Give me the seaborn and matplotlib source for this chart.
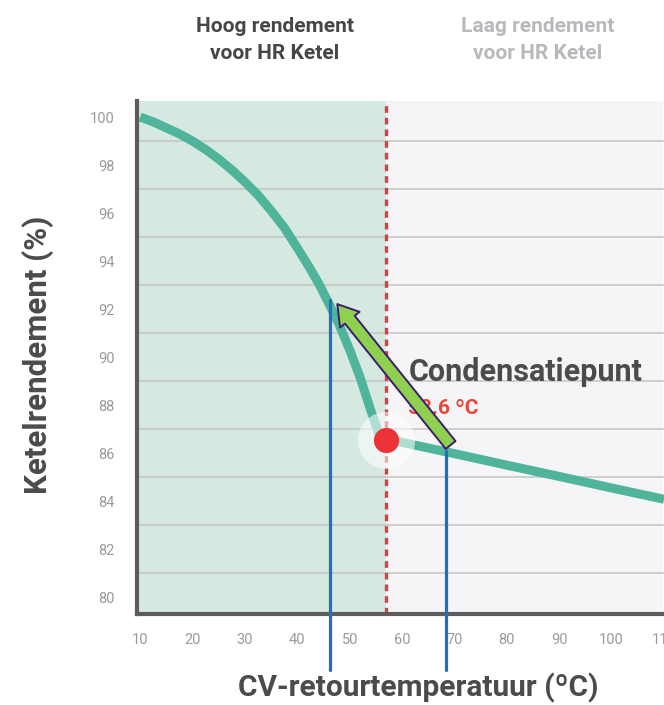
import seaborn as sns
import matplotlib.pyplot as plt
import pandas as pd
from matplotlib.patches import FancyArrowPatch

# efficiency curve
temp = [10, 12.5, 15, 17.5, 20, 22.5, 25, 27.5, 30, 32.5, 35, 37.5, 40, 42, 44, 46, 48,
        50, 52, 54, 55.6, 57, 60, 70, 80, 90, 100, 110]
rendement = [100.0, 99.8, 99.55, 99.3, 99.0, 98.65, 98.25, 97.8, 97.3, 96.75, 96.1, 95.4,
             94.55, 93.85, 93.1, 92.25, 91.35, 90.3, 89.15, 87.8, 86.8, 86.55,
             86.45, 85.98, 85.5, 85.03, 84.55, 84.08]
condens_x = 57
condens_y = 86.55
markers_x = [46.3, 68.4]
markers_y = [92.4, 86.1]
xticks = [10, 20, 30, 40, 50, 60, 70, 80, 90, 100, 110]
yticks = [80, 82, 84, 86, 88, 90, 92, 94, 96, 98, 100]

df = pd.DataFrame({'temp': temp, 'rendement': rendement})

sns.set_style('white')
plt.rcParams['font.family'] = ['Roboto', 'DejaVu Sans']

fig = plt.figure(figsize=(6.64, 7.05), dpi=100)
ax = fig.add_axes([137/664, 91/705, 527/664, 513/705])
ax.set_xlim(9.4, 109.6)
ax.set_ylim(79.3, 100.67)

# background zones
ax.axvspan(9.4, condens_x, color='#d6e9e1', zorder=0)
ax.axvspan(condens_x, 109.6, color='#f5f5f7', zorder=0)

# grid lines on odd values
for g in range(81, 100, 2):
    ax.axhline(g, color='#c4c4c4', lw=1.1, zorder=1)

# condensation line
ax.axvline(condens_x, color='#e23b3b', lw=2.4, ls=(0, (2, 1.5)), zorder=2)

sns.lineplot(data=df, x='temp', y='rendement', ax=ax, color='#50b49b',
             lw=6.5, zorder=3, solid_capstyle='butt')

# blue markers dropping below the axis
for mx, my in zip(markers_x, markers_y):
    ax.plot([mx, mx], [76.95, my], color='#1f6fc6', lw=2.3, zorder=4, clip_on=False)

# halo + dot
ax.scatter([condens_x], [condens_y], s=1700, color='white', alpha=0.55, zorder=4,
           linewidths=0)
ax.scatter([condens_x], [condens_y], s=330, color='#ec3338', zorder=6, linewidths=0)

ax.text(61.2, 89.4, 'Condensatiepunt', fontsize=22, fontweight='bold',
        color='#4b4b4d', va='center', ha='left', zorder=5)
ax.text(61.2, 87.85, '58.6 ºC', fontsize=15, fontweight='bold',
        color='#e8473a', va='center', ha='left', zorder=5)

arrow = FancyArrowPatch((69.6, 86.25), (47.3, 92.3),
                        arrowstyle='simple,head_width=1.5,head_length=1.2,tail_width=0.75',
                        mutation_scale=12, facecolor='#8fd14f', edgecolor='#3b1d6e',
                        lw=1.4, zorder=7)
ax.add_patch(arrow)

ax.set_xticks(xticks)
ax.set_yticks(yticks)
ax.tick_params(axis='both', length=0, labelsize=10.5, labelcolor='#9a9a9a')
ax.tick_params(axis='x', pad=14)
ax.tick_params(axis='y', pad=16)
for s in ['top', 'right']:
    ax.spines[s].set_visible(False)
for s in ['left', 'bottom']:
    ax.spines[s].set_color('#5c5c5c')
    ax.spines[s].set_linewidth(3)

ax.set_xlabel('CV-retourtemperatuur (ºC)', fontsize=21.5, fontweight='bold',
              color='#4b4b4d', va='center')
ax.xaxis.set_label_coords(0.533, -0.144)
ax.set_ylabel('Ketelrendement (%)', fontsize=22.5, fontweight='bold',
              color='#4b4b4d', va='center')
ax.yaxis.set_label_coords(-0.188, 0.505)

fig.text(275/664, 1 - 40/705, 'Hoog rendement\nvoor HR Ketel', ha='center', va='center',
         fontsize=15, fontweight='bold', color='#464648', linespacing=1.55)
fig.text(538/664, 1 - 40/705, 'Laag rendement\nvoor HR Ketel', ha='center', va='center',
         fontsize=15, fontweight='bold', color='#b9b9bd', linespacing=1.55)

plt.savefig('out.png', dpi=100)
